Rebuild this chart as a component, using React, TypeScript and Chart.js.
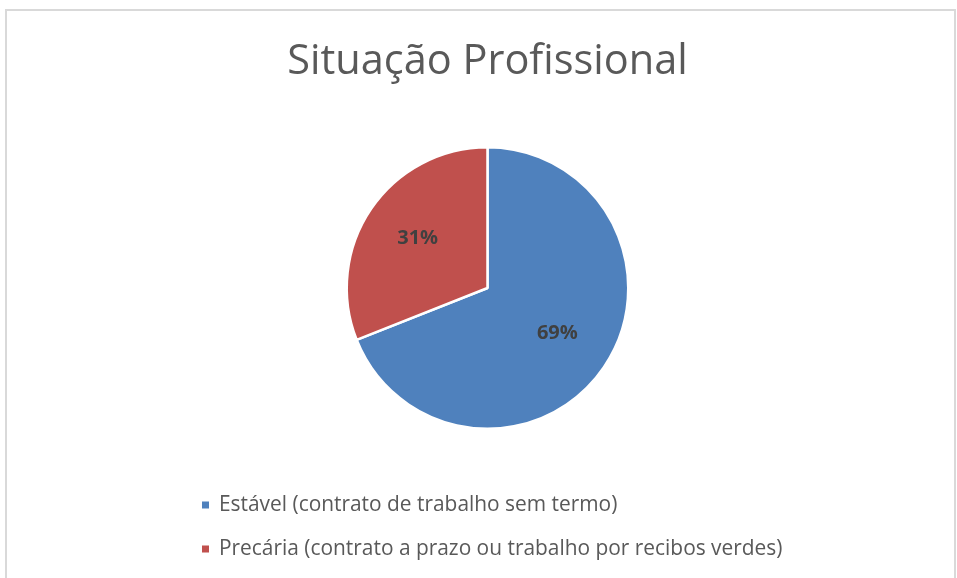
import React, { useEffect, useRef } from "react";
import { Chart, registerables } from "chart.js";

Chart.register(...registerables);

const chartTitle = "Situação Profissional";
const categories = [
  "Estável (contrato de trabalho sem termo)",
  "Precária (contrato a prazo ou trabalho por recibos verdes)",
];
const values = [69, 31];
const sliceColors = ["#4F81BD", "#C0504D"];

const FONT = "'Open Sans', 'Noto Sans', sans-serif";
const W = 957;
const H = 578;

const framePlugin = {
  id: "frame",
  beforeDraw(chart: any) {
    const ctx = chart.ctx;
    ctx.save();
    ctx.fillStyle = "#ffffff";
    ctx.fillRect(0, 0, W, H);
    ctx.strokeStyle = "#D9D9D9";
    ctx.lineWidth = 2;
    ctx.strokeRect(6, 10, 949, 620);
    ctx.restore();
  },
};

const titlePlugin = {
  id: "customTitle",
  afterDraw(chart: any) {
    const ctx = chart.ctx;
    ctx.save();
    ctx.fillStyle = "#595959";
    ctx.font = `41.5px ${FONT}`;
    ctx.textAlign = "center";
    ctx.textBaseline = "alphabetic";
    ctx.fillText(chartTitle, 487.5, 74);
    ctx.restore();
  },
};

const labelPlugin = {
  id: "sliceLabels",
  afterDatasetsDraw(chart: any) {
    const ctx = chart.ctx;
    const meta = chart.getDatasetMeta(0);
    const data = chart.data.datasets[0].data as number[];
    const total = data.reduce((a, b) => a + b, 0);
    ctx.save();
    ctx.fillStyle = "#404040";
    ctx.font = `bold 20px ${FONT}`;
    ctx.textAlign = "center";
    ctx.textBaseline = "middle";
    meta.data.forEach((arc: any, i: number) => {
      const p = arc.getProps(["x", "y", "startAngle", "endAngle", "outerRadius"], true);
      const mid = (p.startAngle + p.endAngle) / 2;
      const r = p.outerRadius * 0.6;
      const x = p.x + Math.cos(mid) * r;
      const y = p.y + Math.sin(mid) * r - 2;
      ctx.fillText(`${Math.round((data[i] / total) * 100)}%`, x, y);
    });
    ctx.restore();
  },
};

const legendPlugin = {
  id: "customLegend",
  afterDraw(chart: any) {
    const ctx = chart.ctx;
    const labels = chart.data.labels as string[];
    const colors = chart.data.datasets[0].backgroundColor as string[];
    ctx.save();
    ctx.font = `20.9px ${FONT}`;
    ctx.textBaseline = "middle";
    ctx.textAlign = "left";
    labels.forEach((lab, i) => {
      const cy = 505 + i * 44;
      ctx.fillStyle = colors[i];
      ctx.fillRect(202, cy - 3.5, 7, 7);
      ctx.fillStyle = "#595959";
      ctx.fillText(lab, 219, cy);
    });
    ctx.restore();
  },
};

export default function App() {
  const ref = useRef<HTMLCanvasElement | null>(null);
  useEffect(() => {
    if (!ref.current) return;
    const chart = new Chart(ref.current, {
      type: "pie",
      data: {
        labels: categories,
        datasets: [
          {
            data: values,
            backgroundColor: sliceColors,
            borderColor: "#ffffff",
            borderWidth: 2.5,
          },
        ],
      },
      options: {
        responsive: false,
        animation: false,
        layout: { padding: { top: 146, bottom: 148, left: 345, right: 327 } },
        plugins: {
          legend: { display: false },
          title: { display: false },
          tooltip: { enabled: false },
        },
      },
      plugins: [framePlugin, titlePlugin, labelPlugin, legendPlugin],
    });
    return () => chart.destroy();
  }, []);
  return (
    <div style={{ position: "fixed", left: 0, top: 0, width: W, height: H, background: "#fff" }}>
      <canvas ref={ref} width={W} height={H} style={{ display: "block", width: W, height: H }} />
    </div>
  );
}
